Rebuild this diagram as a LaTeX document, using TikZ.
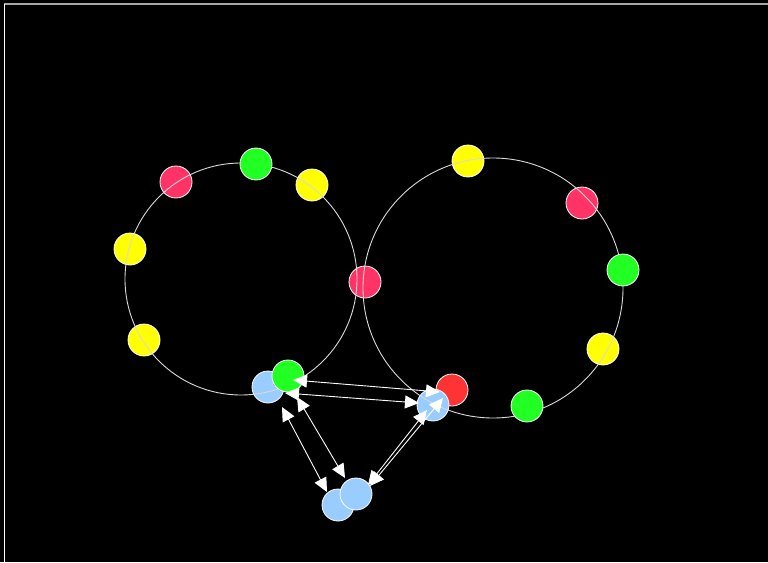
\documentclass[tikz,border=0pt]{standalone}
\usepackage{xcolor}
\usepackage{tikz}
\usetikzlibrary{calc, positioning, arrows.meta}

\definecolor{pinkdot}{HTML}{FF3366}
\definecolor{greendot}{HTML}{22FF22}
\definecolor{yellowdot}{HTML}{FFFF00}
\definecolor{reddot}{HTML}{FF3333}
\definecolor{bluedot}{HTML}{99CCFF}

\begin{document}
\begin{tikzpicture}[x=1pt, y=-1pt, >={Triangle[length=14pt, width=13pt]},
    dot/.style={circle, draw=white, line width=0.8pt, minimum size=32pt, inner sep=0pt},
    ring/.style={draw=white!85!black, line width=0.9pt},
    edge/.style={<->, white, line width=0.9pt}]
    % 1. Nen den va khung
    \useasboundingbox (0,0) rectangle (768,562);
    \fill[black] (0,0) rectangle (768,562);
    \draw[gray!70!white, line width=1.5pt] (4,4) -- (768,4);
    \draw[white, line width=1.2pt] (4.5,4) -- (4.5,562);

    % 2. Cac diem nam duoi duong tron
    \node[dot, fill=pinkdot] (pA) at (176,182) {};
    \node[dot, fill=yellowdot] (yA) at (312,185) {};
    \node[dot, fill=yellowdot] (yB) at (130,249) {};
    \node[dot, fill=yellowdot] (yC) at (144,340) {};
    \node[dot, fill=pinkdot] (pB) at (365,282) {};
    \node[dot, fill=yellowdot] (yD) at (468,161) {};
    \node[dot, fill=pinkdot] (pC) at (582,203) {};
    \node[dot, fill=yellowdot] (yE) at (603,349) {};
    \node[dot, fill=reddot] (rB) at (452,390) {};
    \node[dot, fill=bluedot] (bL) at (268,387) {};
    \node[dot, fill=bluedot] (bR) at (433,405) {};
    \node[dot, fill=bluedot] (bA) at (338,505) {};
    \node[dot, fill=bluedot] (bB) at (356,494) {};

    % 3. Hai duong tron
    \draw[ring] (241,279) circle[radius=116];
    \draw[ring] (493,288) circle[radius=130];

    % Cac diem xanh la nam tren
    \node[dot, fill=greendot] (gA) at (256,164) {};
    \node[dot, fill=greendot] (gB) at (288,376) {};
    \node[dot, fill=greendot] (gC) at (623,270) {};
    \node[dot, fill=greendot] (gD) at (527,406) {};

    % 4. Cac mui ten
    \draw[edge] ([shift={(5,4)}]gB.center) -- ([shift={(-12,2)}]rB.center);
    \draw[edge] ([shift={(17,6)}]bL.center) -- ([shift={(-14,-2)}]bR.center);
    \draw[edge] ([shift={(14,20)}]bL.center) -- ([shift={(-11,-13)}]bA.center);
    \draw[edge] ([shift={(9,21)}]gB.center) -- ([shift={(-11,-16)}]bB.center);
    \draw[edge] ([shift={(12,-9)}]bB.center) -- ([shift={(-6,5)}]bR.center);
    \draw[edge] ([shift={(14,-8)}]bB.center) -- ([shift={(-9,8)}]rB.center);
\end{tikzpicture}
\end{document}
